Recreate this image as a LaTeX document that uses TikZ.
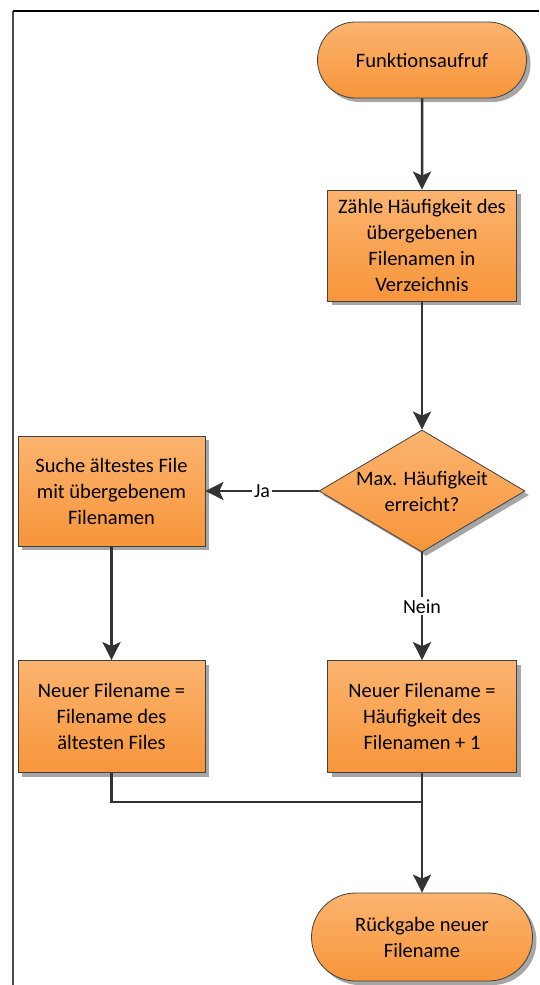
\documentclass[tikz,border=0pt]{standalone}
\usepackage{fontspec}
\setmainfont{Carlito}
\usetikzlibrary{shapes.geometric,shapes.misc,shadows,arrows.meta}
\definecolor{boxtop}{HTML}{FBB46F}
\definecolor{boxbottom}{HTML}{F7953A}
\definecolor{linegray}{HTML}{333333}
\definecolor{framegray}{HTML}{4A4A4A}
\tikzset{
  boxtext/.style={align=center, inner sep=0pt, font=\fontsize{20.5}{26}\selectfont},
  shapebase/.style={boxtext, draw=black!75, line width=0.8pt, top color=boxtop, bottom color=boxbottom,
    drop shadow={shadow xshift=4pt, shadow yshift=-4pt, fill=black!35, opacity=1}},
  process/.style={shapebase, rectangle, minimum width=189pt, minimum height=111pt},
  terminal/.style={shapebase, rounded rectangle, minimum width=209pt, minimum height=76pt},
  decision/.style={shapebase, diamond, minimum width=206pt, minimum height=122pt},
  flow/.style={draw=linegray, line width=2.5pt, -{Stealth[length=18pt,width=18pt,inset=4pt]}},
  joinline/.style={draw=linegray, line width=2.5pt},
  lbl/.style={fill=white, inner sep=2pt, font=\fontsize{20}{24}\selectfont}
}

\begin{document}
\begin{tikzpicture}[x=1pt, y=-1pt]
  \useasboundingbox (0,0) rectangle (539,985);
  % page frame
  \coordinate (frametl) at (13,11);
  \coordinate (frametr) at (539,11);
  \coordinate (framebl) at (13,985);
  \draw[framegray, line width=2pt] (framebl) -- (frametl);
  \draw[black, line width=1.3pt] (frametl) -- (frametr);
  % shapes
  \node[terminal] (start) at (422,60) {Funktionsaufruf};
  \node[process] (count) at (422,245.5) {Zähle Häufigkeit des\\übergebenen\\Filenamen in\\Verzeichnis};
  \node[decision] (check) at (422,491) {};
  \node[boxtext] (checktext) at (check.center) {Max. Häufigkeit\\erreicht?};
  \node[process, minimum width=187pt, minimum height=110pt] (oldest) at (111.5,491) {Suche ältestes File\\mit übergebenem\\Filenamen};
  \node[process, minimum width=187pt, minimum height=112pt] (newold) at (111.5,716.5) {Neuer Filename =\\Filename des\\ältesten Files};
  \node[process, minimum height=112pt] (newcount) at (422,716.5) {Neuer Filename =\\Häufigkeit des\\Filenamen + 1};
  \node[terminal, minimum width=221pt, minimum height=88pt] (result) at (422,937) {Rückgabe neuer\\Filename};
  \coordinate (merge) at (422,802);
  % connectors
  \draw[flow] (start) -- (count);
  \draw[flow] (count) -- (check);
  \draw[flow] (check.west) -- node[lbl] {Ja} (oldest.east);
  \draw[flow] (check.south) -- node[lbl] {Nein} (newcount.north);
  \draw[flow] (oldest) -- (newold);
  \draw[joinline] (newold.south) |- (merge);
  \draw[flow] (newcount.south) -- (result.north);
\end{tikzpicture}
\end{document}
